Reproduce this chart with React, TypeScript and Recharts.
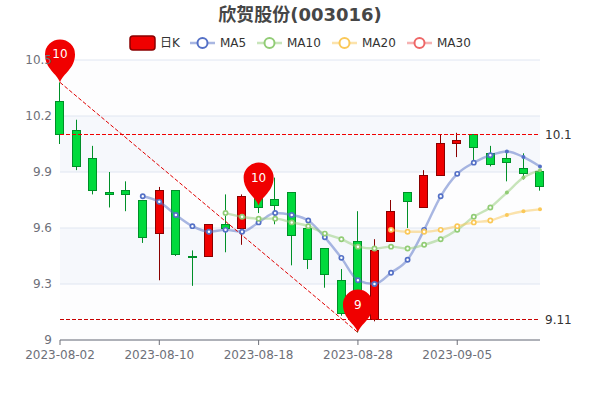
import { Bar, CartesianGrid, ComposedChart, Line, ReferenceDot, ReferenceLine, XAxis, YAxis } from "recharts";

const dates = [
  "2023-08-02", "2023-08-03", "2023-08-04", "2023-08-07", "2023-08-08", "2023-08-09",
  "2023-08-10", "2023-08-11", "2023-08-14", "2023-08-15", "2023-08-16", "2023-08-17",
  "2023-08-18", "2023-08-21", "2023-08-22", "2023-08-23", "2023-08-24", "2023-08-25",
  "2023-08-28", "2023-08-29", "2023-08-30", "2023-08-31", "2023-09-01", "2023-09-04",
  "2023-09-05", "2023-09-06", "2023-09-07", "2023-09-08", "2023-09-11", "2023-09-12",
];
const opens = [
  10.28, 10.12, 9.97, 9.79, 9.8, 9.75, 9.57, 9.8, 9.45, 9.45,
  9.62, 9.6, 9.77, 9.75, 9.79, 9.6, 9.49, 9.32, 9.53, 9.11,
  9.53, 9.79, 9.71, 9.88, 10.05, 10.1, 10.0, 9.97, 9.92, 9.9,
];
const closes = [
  10.1, 9.93, 9.8, 9.78, 9.78, 9.55, 9.8, 9.46, 9.45, 9.62,
  9.6, 9.77, 9.71, 9.72, 9.56, 9.43, 9.35, 9.14, 9.13, 9.48,
  9.69, 9.74, 9.88, 10.05, 10.07, 10.03, 9.94, 9.95, 9.89, 9.82,
];
const lows = [
  10.05, 9.91, 9.78, 9.71, 9.69, 9.52, 9.32, 9.45, 9.29, 9.45,
  9.47, 9.51, 9.68, 9.62, 9.4, 9.38, 9.28, 9.13, 9.04, 9.1,
  9.53, 9.6, 9.71, 9.88, 9.98, 9.96, 9.93, 9.85, 9.86, 9.8,
];
const highs = [
  10.38, 10.18, 10.04, 9.9, 9.85, 9.75, 9.82, 9.8, 9.48, 9.62,
  9.78, 9.78, 9.77, 9.87, 9.79, 9.6, 9.49, 9.38, 9.69, 9.54,
  9.75, 9.79, 9.91, 10.1, 10.11, 10.1, 10.04, 10.01, 10.0, 9.9,
];
const ma5 = [
  9.77, 9.74, 9.67, 9.61, 9.58, 9.59, 9.58, 9.63, 9.68, 9.67, 9.64, 9.55, 9.44,
  9.32, 9.3, 9.36, 9.43, 9.59, 9.77, 9.89, 9.95, 9.99, 10.01, 9.98, 9.93,
];
const ma10 = [
  9.68, 9.66, 9.65, 9.65, 9.63, 9.61, 9.57, 9.54, 9.5, 9.49,
  9.5, 9.49, 9.51, 9.54, 9.59, 9.66, 9.71, 9.79, 9.87, 9.91,
];
const ma20 = [9.59, 9.58, 9.58, 9.59, 9.61, 9.63, 9.64, 9.67, 9.69, 9.7];
const ma30: number[] = [];
const yTicks = [9, 9.3, 9.6, 9.9, 10.2, 10.5];
const pinDates = [dates[0], dates[12], dates[18]];
const pinValues = [10.38, 9.72, 9.04];
const pinLabels = ["10", "10", "9"];

const FONT = '"DejaVu Sans", "Noto Sans CJK SC", sans-serif';
const UP = "#f00000";
const UP_BORDER = "#8a0000";
const DOWN = "#00da3c";
const DOWN_BORDER = "#008f28";
const MA_COLORS = ["#5470c6", "#91cc75", "#fac858", "#ee6666"];
const MA_NAMES = ["MA5", "MA10", "MA20", "MA30"];

// moving averages start late, so pad the front with nulls
const padded = (values: number[], i: number) => {
  const start = dates.length - values.length;
  return i >= start && values.length ? values[i - start] : null;
};

const data = dates.map((date, i) => ({
  date,
  open: opens[i],
  close: closes[i],
  range: [lows[i], highs[i]],
  ma5: padded(ma5, i),
  ma10: padded(ma10, i),
  ma20: padded(ma20, i),
  ma30: padded(ma30, i),
}));

const Candle = (props: any) => {
  const { x, y, width, height, payload } = props;
  const [low, high] = payload.range;
  const at = (v: number) => y + ((high - v) / (high - low)) * height;
  const up = payload.close > payload.open;
  // snap to pixel centres so the borders stay crisp
  const top = Math.floor(at(Math.max(payload.open, payload.close))) + 0.5;
  const bottom = Math.floor(at(Math.min(payload.open, payload.close))) + 0.5;
  const mid = Math.ceil(x + width / 2) - 0.5;
  const border = up ? UP_BORDER : DOWN_BORDER;
  return (
    <g>
      <line x1={mid} x2={mid} y1={y} y2={y + height} stroke={border} strokeWidth={1} />
      <rect x={mid - 4} y={top} width={8} height={Math.max(bottom - top, 1)} fill={up ? UP : DOWN} stroke={border} strokeWidth={1} />
    </g>
  );
};

const Pin = ({ cx, cy, label }: any) => (
  <g>
    <path
      d={`M${cx} ${cy} C${cx - 3} ${cy - 9} ${cx - 15} ${cy - 14} ${cx - 15} ${cy - 28} A15 15 0 1 1 ${cx + 15} ${cy - 28} C${cx + 15} ${cy - 14} ${cx + 3} ${cy - 9} ${cx} ${cy} Z`}
      fill={UP}
    />
    <text x={cx} y={cy - 24} fill="#fff" fontSize={12} fontFamily={FONT} textAnchor="middle">
      {label}
    </text>
  </g>
);

const SnapLine = ({ x1, x2, y1, stroke, strokeDasharray }: any) => {
  const y = Math.floor(y1) + 0.5;
  return <line x1={x1} x2={x2} y1={y} y2={y} stroke={stroke} strokeDasharray={strokeDasharray} />;
};

const MaDot = (color: string) => (props: any) => {
  const { cx, cy, index, value } = props;
  if (value == null || cx == null) return <g key={index} />;
  // the last few markers are smaller in the reference
  if (index >= 27) return <circle key={index} cx={cx} cy={cy} r={2} fill={color} />;
  return <circle key={index} cx={cx} cy={cy} r={2.1} fill="#fff" stroke={color} strokeWidth={1.7} />;
};

const legendText = { fontSize: 12, fill: "#333", fontFamily: FONT };

const ChartLegend = () => (
  <svg width={600} height={60} style={{ position: "absolute", left: 0, top: 0 }}>
    <text x={300} y={21} textAnchor="middle" fontSize={18} fontWeight="bold" fill="#464646" fontFamily={FONT}>
      欣贺股份(003016)
    </text>
    <rect x={130} y={36} width={25} height={14} rx={3} fill={UP} stroke={UP_BORDER} strokeWidth={1.5} />
    <text x={160} y={47} {...legendText}>日K</text>
    {MA_NAMES.map((name, i) => {
      const left = [190, 257, 332, 407][i];
      return (
        <g key={name}>
          <line x1={left} x2={left + 25} y1={43} y2={43} stroke={MA_COLORS[i]} strokeOpacity={0.5} strokeWidth={2.5} />
          <circle cx={left + 12.5} cy={43} r={5} fill="#fff" stroke={MA_COLORS[i]} strokeWidth={2} />
          <text x={left + 30} y={47} {...legendText}>{name}</text>
        </g>
      );
    })}
  </svg>
);

const maSeries = ["ma5", "ma10", "ma20", "ma30"];
const axisTick = { fontSize: 12, fill: "#6e7079", fontFamily: FONT };

export default function App() {
  return (
    <div style={{ position: "absolute", left: 0, top: 0, width: 600, height: 400 }}>
      <ComposedChart width={600} height={400} data={data} margin={{ top: 60, right: 60, bottom: 0, left: 0 }}>
        <CartesianGrid vertical={false} stroke="#e0e6f1" horizontalFill={["#fdfdfe", "#f6f8fc"]} fillOpacity={1} syncWithTicks />
        <XAxis
          dataKey="date"
          scale="point"
          interval={5}
          height={60}
          tick={axisTick}
          tickSize={5}
          stroke="#6e7079"
          tickMargin={5}
        />
        <YAxis
          width={60}
          domain={[9, 10.5]}
          ticks={yTicks}
          tick={axisTick}
          axisLine={false}
          tickLine={false}
          tickMargin={2}
        />
        <Bar dataKey="range" barSize={8} shape={<Candle />} isAnimationActive={false} />
        {maSeries.map((key, i) => (
          <Line
            key={key}
            dataKey={key}
            type="monotone"
            stroke={MA_COLORS[i]}
            strokeOpacity={0.5}
            strokeWidth={2.4}
            dot={MaDot(MA_COLORS[i])}
            connectNulls={false}
            isAnimationActive={false}
          />
        ))}
        <ReferenceLine y={10.1} stroke="#f00000" strokeDasharray="4 2" shape={<SnapLine />} label={{ value: "10.1", position: "right", fontSize: 12, fill: "#333", fontFamily: FONT }} />
        <ReferenceLine y={9.11} stroke="#c80000" strokeDasharray="4 2" shape={<SnapLine />} label={{ value: "9.11", position: "right", fontSize: 12, fill: "#333", fontFamily: FONT }} />
        <ReferenceLine
          ifOverflow="visible"
          segment={[{ x: pinDates[0], y: pinValues[0] }, { x: pinDates[2], y: pinValues[2] }]}
          stroke="#e00000"
          strokeDasharray="4 2"
        />
        {pinDates.map((d, i) => (
          <ReferenceDot key={d} ifOverflow="visible" x={d} y={pinValues[i]} shape={<Pin label={pinLabels[i]} />} />
        ))}
      </ComposedChart>
      <ChartLegend />
    </div>
  );
}
